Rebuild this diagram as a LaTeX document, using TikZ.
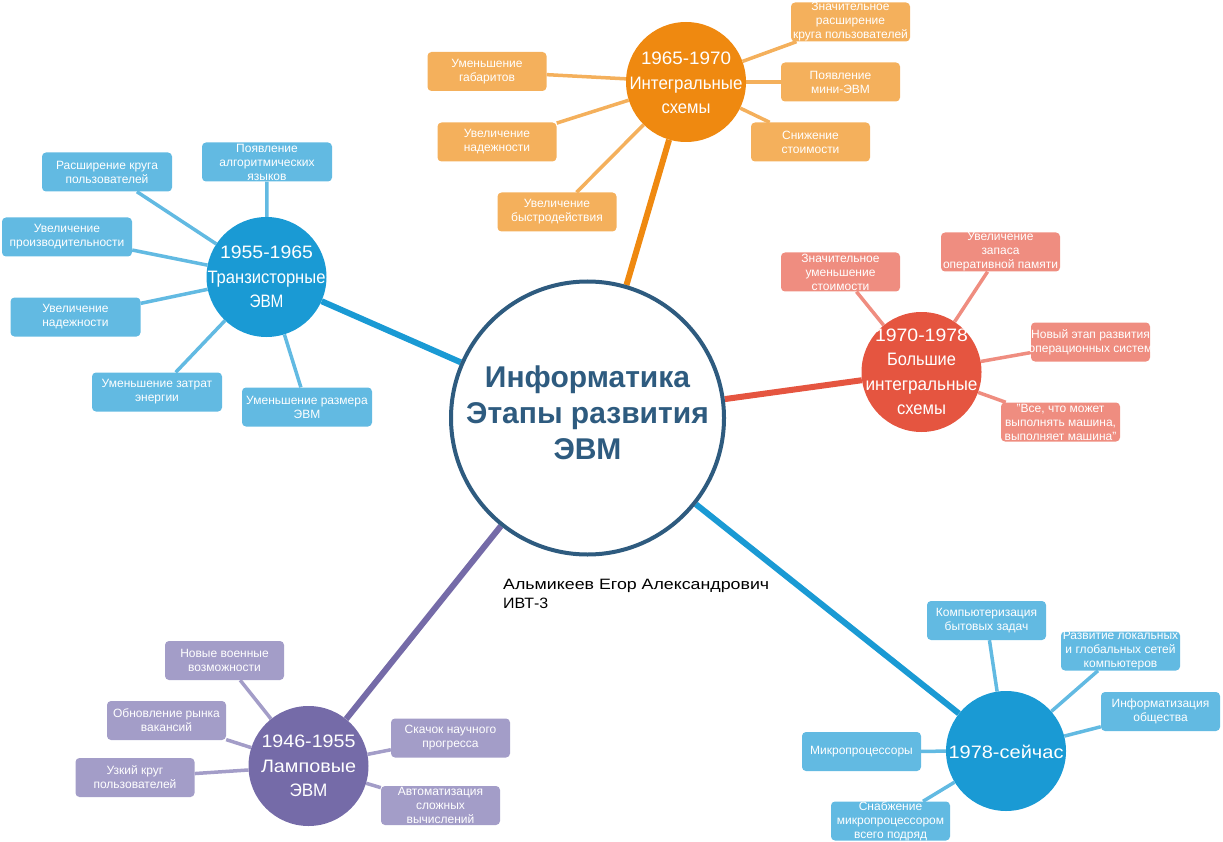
\documentclass[tikz,border=0pt]{standalone}
\usepackage{fontspec}
\usepackage{graphicx}
\setmainfont{Liberation Sans}
\usetikzlibrary{backgrounds}
\definecolor{hubc}{RGB}{46,91,127}
\definecolor{orgC}{RGB}{239,137,16}
\definecolor{orgL}{RGB}{244,176,92}
\definecolor{bluC}{RGB}{26,154,212}
\definecolor{bluL}{RGB}{98,186,226}
\definecolor{redC}{RGB}{229,85,64}
\definecolor{redL}{RGB}{239,141,128}
\definecolor{purC}{RGB}{117,107,168}
\definecolor{purL}{RGB}{163,157,200}
\newcommand{\fitw}[2]{\resizebox{#1pt}{\height}{#2}}
\begin{document}
\begin{tikzpicture}[x=1pt,y=-1pt,
  hub/.style={circle,draw=hubc,line width=4pt,fill=white,minimum size=273pt,inner sep=0pt},
  era/.style={circle,minimum size=120pt,inner sep=0pt,fill=#1},
  leaf/.style={rounded corners=4pt,minimum width=119pt,minimum height=39pt,inner sep=0pt,fill=#1},
  wleaf/.style={leaf=#1,minimum width=130pt},
  ltxt/.style={text=white,font=\fontsize{12}{14}\selectfont,align=center,inner sep=0pt},
  etxt/.style={text=white,font=\fontsize{18}{24.5}\selectfont,align=center,inner sep=0pt},
  trunk/.style={line width=6pt,draw=#1},
  twig/.style={line width=3.5pt,draw=#1},
]
\useasboundingbox (0,0) rectangle (1223,842);

% hub
\node[hub] (hub) at (587.5,418) {};
\node[text=hubc,font=\bfseries\fontsize{30}{36}\selectfont,align=center,inner sep=0pt] (hubt) at (587.5,413) {Информатика\\Этапы развития\\ЭВМ};

% author
\node[anchor=base west,inner sep=0pt,font=\fontsize{15}{19}\selectfont] (au1) at (503,589) {\fitw{266}{Альмикеев Егор Александрович}};
\node[anchor=base west,inner sep=0pt,font=\fontsize{15}{19}\selectfont] (au2) at (503,608) {\fitw{45}{ИВТ-3}};

% 1965-1970
\node[era=orgC] (e3) at (686,82) {};
\node[etxt] (e3t) at (686,83) {\fitw{90}{1965-1970}\\\fitw{113}{Интегральные}\\\fitw{49}{схемы}};
\node[leaf=orgL] (o1) at (487,71.5) {};   \node[ltxt] (o1t) at (o1) {Уменьшение\\габаритов};
\node[leaf=orgL] (o2) at (497,142) {};    \node[ltxt] (o2t) at (o2) {Увеличение\\надежности};
\node[leaf=orgL] (o3) at (557,212) {};    \node[ltxt] (o3t) at (o3) {Увеличение\\быстродействия};
\node[leaf=orgL] (o4) at (850.5,22) {};   \node[ltxt] (o4t) at (o4) {Значительное\\расширение\\круга пользователей};
\node[leaf=orgL] (o5) at (840.5,82) {};   \node[ltxt] (o5t) at (o5) {Появление\\мини-ЭВМ};
\node[leaf=orgL] (o6) at (810.5,142) {};  \node[ltxt] (o6t) at (o6) {Снижение\\стоимости};

% 1955-1965
\node[era=bluC] (e2) at (266.5,277) {};
\node[etxt] (e2t) at (266.5,277) {\fitw{93}{1955-1965}\\\fitw{118}{Транзисторные}\\\fitw{34}{ЭВМ}};
\node[wleaf=bluL] (b1) at (267,162) {};   \node[ltxt] (b1t) at (b1) {Появление\\алгоритмических\\языков};
\node[wleaf=bluL] (b2) at (107,172) {};   \node[ltxt] (b2t) at (b2) {Расширение круга\\пользователей};
\node[wleaf=bluL] (b3) at (67,237) {};    \node[ltxt] (b3t) at (b3) {Увеличение\\производительности};
\node[wleaf=bluL] (b4) at (75.5,317) {};  \node[ltxt] (b4t) at (b4) {Увеличение\\надежности};
\node[wleaf=bluL] (b5) at (157,392) {};   \node[ltxt] (b5t) at (b5) {Уменьшение затрат\\энергии};
\node[wleaf=bluL] (b6) at (307,407) {};   \node[ltxt] (b6t) at (b6) {Уменьшение размера\\ЭВМ};

% 1970-1978
\node[era=redC] (e4) at (921.5,372) {};
\node[etxt] (e4t) at (921.5,372) {\fitw{93}{1970-1978}\\\fitw{69}{Большие}\\\fitw{112}{интегральные}\\\fitw{49}{схемы}};
\node[leaf=redL] (r1) at (840.5,272) {};  \node[ltxt] (r1t) at (r1) {Значительное\\уменьшение\\стоимости};
\node[leaf=redL] (r2) at (1000.5,252) {}; \node[ltxt] (r2t) at (r2) {Увеличение\\запаса\\оперативной памяти};
\node[leaf=redL] (r3) at (1090.5,342) {}; \node[ltxt] (r3t) at (r3) {Новый этап развития\\операционных систем};
\node[leaf=redL] (r4) at (1060.5,422) {}; \node[ltxt] (r4t) at (r4) {"Все, что может\\выполнять машина,\\выполняет машина"};

% 1946-1955
\node[era=purC] (e1) at (308.5,766) {};
\node[etxt] (e1t) at (308.5,766) {\fitw{94}{1946-1955}\\\fitw{95}{Ламповые}\\\fitw{38}{ЭВМ}};
\node[leaf=purL] (p1) at (224.5,660.5) {}; \node[ltxt] (p1t) at (p1) {Новые военные\\возможности};
\node[leaf=purL] (p2) at (166.5,720.5) {}; \node[ltxt] (p2t) at (p2) {Обновление рынка\\вакансий};
\node[leaf=purL] (p3) at (135,777.5) {};   \node[ltxt] (p3t) at (p3) {Узкий круг\\пользователей};
\node[leaf=purL] (p4) at (450.5,738) {};   \node[ltxt] (p4t) at (p4) {Скачок научного\\прогресса};
\node[leaf=purL] (p5) at (440.5,805.5) {}; \node[ltxt] (p5t) at (p5) {Автоматизация\\сложных\\вычислений};

% 1978-now
\node[era=bluC] (e5) at (1006,751) {};
\node[etxt] (e5t) at (1006,752) {\fitw{115}{1978-сейчас}};
\node[leaf=bluL] (n1) at (986.5,620.5) {}; \node[ltxt] (n1t) at (n1) {Компьютеризация\\бытовых задач};
\node[leaf=bluL] (n2) at (1120.5,651) {};  \node[ltxt] (n2t) at (n2) {Развитие локальных\\и глобальных сетей\\компьютеров};
\node[leaf=bluL] (n3) at (1160.5,711.5) {}; \node[ltxt] (n3t) at (n3) {Информатизация\\общества};
\node[leaf=bluL] (n4) at (861.5,751.5) {}; \node[ltxt] (n4t) at (n4) {Микропроцессоры};
\node[leaf=bluL] (n5) at (890.5,821) {};   \node[ltxt] (n5t) at (n5) {Снабжение\\микропроцессором\\всего подряд};

\begin{scope}[on background layer]
\draw[trunk=orgC] (hub) -- (e3);
\draw[trunk=bluC] (hub) -- (e2);
\draw[trunk=redC] (hub) -- (e4);
\draw[trunk=purC] (hub) -- (e1);
\draw[trunk=bluC] (hub) -- (e5);
\foreach \b in {o1,o2,o3,o4,o5,o6} \draw[twig=orgL] (e3) -- (\b);
\foreach \b in {b1,b2,b3,b4,b5,b6} \draw[twig=bluL] (e2) -- (\b);
\foreach \b in {r1,r2,r3,r4} \draw[twig=redL] (e4) -- (\b);
\foreach \b in {p1,p2,p3,p4,p5} \draw[twig=purL] (e1) -- (\b);
\foreach \b in {n1,n2,n3,n4,n5} \draw[twig=bluL] (e5) -- (\b);
\end{scope}
\end{tikzpicture}
\end{document}
